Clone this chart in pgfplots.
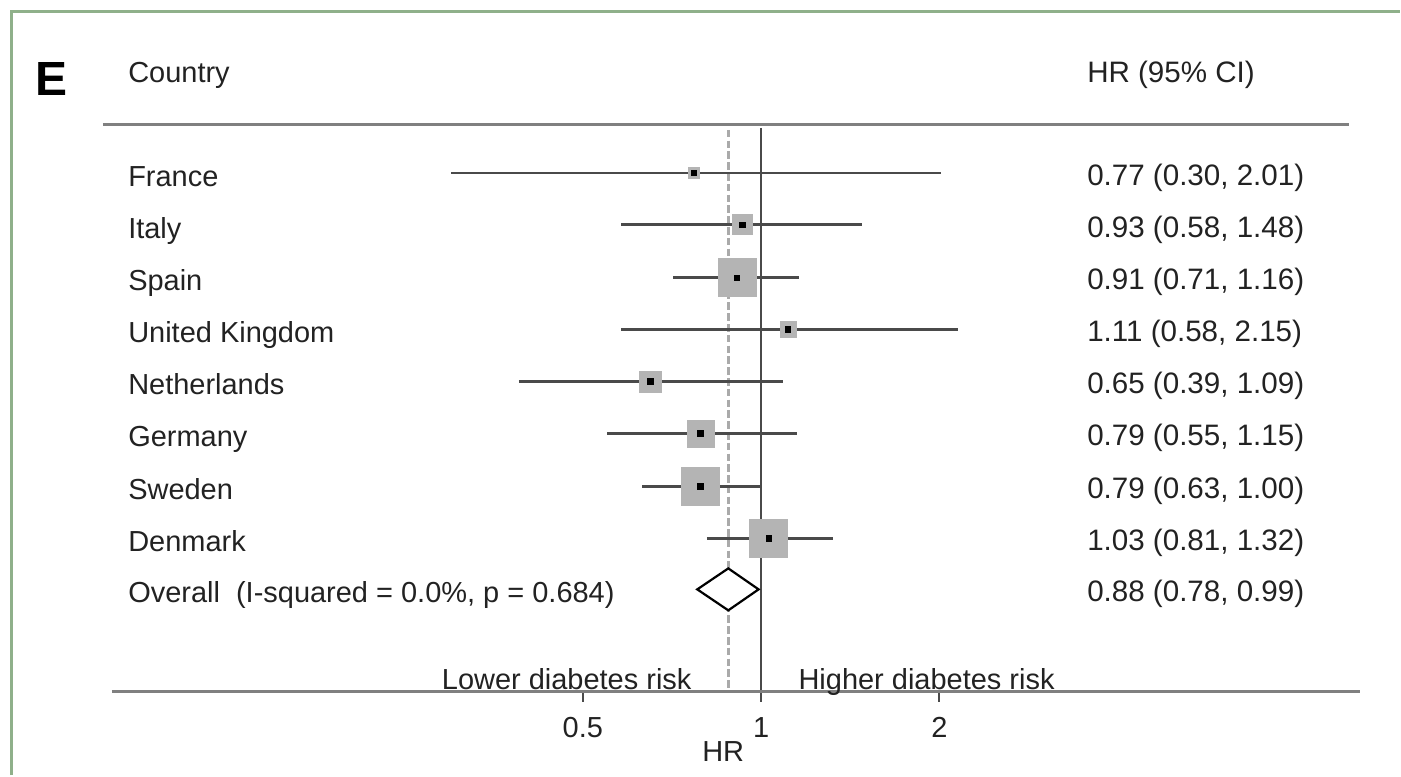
\documentclass[border=0pt]{standalone}
\usepackage{pgfplots}
\pgfplotsset{compat=1.18}
\usepackage{fontspec}
\setmainfont{Liberation Sans}
\definecolor{framec}{HTML}{8FB08A}
\definecolor{txt}{HTML}{222222}
\definecolor{ci}{HTML}{4A4A4A}
\definecolor{boxc}{HTML}{B4B4B4}
\definecolor{rulec}{HTML}{808080}
\definecolor{dashc}{HTML}{AAAAAA}
\newcommand\bodyfont{\fontsize{14.5}{17}\selectfont}
\newcommand\valfont{\fontsize{14.8}{17}\selectfont}
\begin{document}
\begin{tikzpicture}
\begin{axis}[name=ax, at={(0,0)}, anchor=south west, scale only axis,
  width=700.5pt, height=388pt, xmode=log, log basis x=2,
  xmin=0.05187, xmax=11.958, ymin=0, ymax=776, y dir=reverse,
  hide axis, clip=false]
% reference lines
\addplot[dashc, line width=1.4pt, dash pattern=on 3.8pt off 1.6pt] coordinates {(0.88,130) (0.88,690)};
\addplot[ci, line width=1pt] coordinates {(1,128) (1,692)};
% weight boxes (mark size = half side)
\addplot[only marks, mark=square*, mark size=2.6pt, boxc, mark options={draw=boxc, fill=boxc}] coordinates {(0.77,173)};
\addplot[only marks, mark=square*, mark size=5pt, boxc, mark options={draw=boxc, fill=boxc}] coordinates {(0.93,225)};
\addplot[only marks, mark=square*, mark size=9.5pt, boxc, mark options={draw=boxc, fill=boxc}] coordinates {(0.91,278)};
\addplot[only marks, mark=square*, mark size=4pt, boxc, mark options={draw=boxc, fill=boxc}] coordinates {(1.11,330)};
\addplot[only marks, mark=square*, mark size=5.3pt, boxc, mark options={draw=boxc, fill=boxc}] coordinates {(0.65,382)};
\addplot[only marks, mark=square*, mark size=6.8pt, boxc, mark options={draw=boxc, fill=boxc}] coordinates {(0.79,434)};
\addplot[only marks, mark=square*, mark size=9.5pt, boxc, mark options={draw=boxc, fill=boxc}] coordinates {(0.79,487)};
\addplot[only marks, mark=square*, mark size=9.5pt, boxc, mark options={draw=boxc, fill=boxc}] coordinates {(1.03,539)};
% confidence intervals
\addplot[ci, line width=1.3pt] coordinates {(0.30,173) (2.01,173)};
\addplot[ci, line width=1.3pt] coordinates {(0.58,225) (1.48,225)};
\addplot[ci, line width=1.3pt] coordinates {(0.71,278) (1.16,278)};
\addplot[ci, line width=1.3pt] coordinates {(0.58,330) (2.15,330)};
\addplot[ci, line width=1.3pt] coordinates {(0.39,382) (1.09,382)};
\addplot[ci, line width=1.3pt] coordinates {(0.55,434) (1.15,434)};
\addplot[ci, line width=1.3pt] coordinates {(0.63,487) (1.00,487)};
\addplot[ci, line width=1.3pt] coordinates {(0.81,539) (1.32,539)};
% point estimates
\addplot[only marks, mark=square*, mark size=1.4pt, black] coordinates {
(0.77,173) (0.93,225) (0.91,278) (1.11,330) (0.65,382) (0.79,434) (0.79,487) (1.03,539)};
% overall diamond
\addplot[black, line width=1.1pt, fill=white] coordinates {(0.78,590) (0.88,569) (0.99,590) (0.88,611)} -- cycle;
% x ticks
\addplot[ci, line width=1pt] coordinates {(0.5,692) (0.5,703)};
\addplot[ci, line width=1pt] coordinates {(1,692) (1,703)};
\addplot[ci, line width=1pt] coordinates {(2,692) (2,703)};
\node[anchor=base, text=txt, font=\bodyfont] at (axis cs:0.5,738) {0.5};
\node[anchor=base, text=txt, font=\bodyfont] at (axis cs:1,738) {1};
\node[anchor=base, text=txt, font=\bodyfont] at (axis cs:2,738) {2};
\end{axis}
\begin{scope}[shift={(ax.north west)}, x=0.5pt, y=-0.5pt]
  \path (0,0) rectangle (1401,776);
  \draw[framec, line width=1.5pt] (11.5,776) -- (11.5,11.5) -- (1401,11.5);
  \draw[rulec, line width=1.5pt] (103,125) -- (1350,125);
  \draw[rulec, line width=1.5pt] (112,692) -- (1361,692);
  \node[anchor=base west, inner sep=0pt, font=\fontsize{24}{28}\selectfont\bfseries] at (35,96) {E};
  \begin{scope}[every node/.style={anchor=base west, inner sep=0pt, text=txt, font=\bodyfont}]
    \node at (128,83) {Country};
    \node at (128,187) {France};
    \node at (128,239) {Italy};
    \node at (128,291) {Spain};
    \node at (128,343) {United Kingdom};
    \node at (128,395) {Netherlands};
    \node at (128,447) {Germany};
    \node at (128,500) {Sweden};
    \node at (128,552) {Denmark};
    \node at (128,603) {Overall\ \ (I-squared = 0.0\%, p = 0.684)};
    \node at (442,690) {Lower diabetes risk};
    \node at (799,690) {Higher diabetes risk};
    \node[anchor=base] at (724,762) {HR};
  \end{scope}
  \begin{scope}[every node/.style={anchor=base west, inner sep=0pt, text=txt, font=\valfont}]
    \node at (1088,83) {HR (95\% CI)};
    \node at (1088,186) {0.77 (0.30, 2.01)};
    \node at (1088,238) {0.93 (0.58, 1.48)};
    \node at (1088,290) {0.91 (0.71, 1.16)};
    \node at (1088,342) {1.11 (0.58, 2.15)};
    \node at (1088,394) {0.65 (0.39, 1.09)};
    \node at (1088,446) {0.79 (0.55, 1.15)};
    \node at (1088,499) {0.79 (0.63, 1.00)};
    \node at (1088,551) {1.03 (0.81, 1.32)};
    \node at (1088,602) {0.88 (0.78, 0.99)};
  \end{scope}
\end{scope}
\end{tikzpicture}
\end{document}
